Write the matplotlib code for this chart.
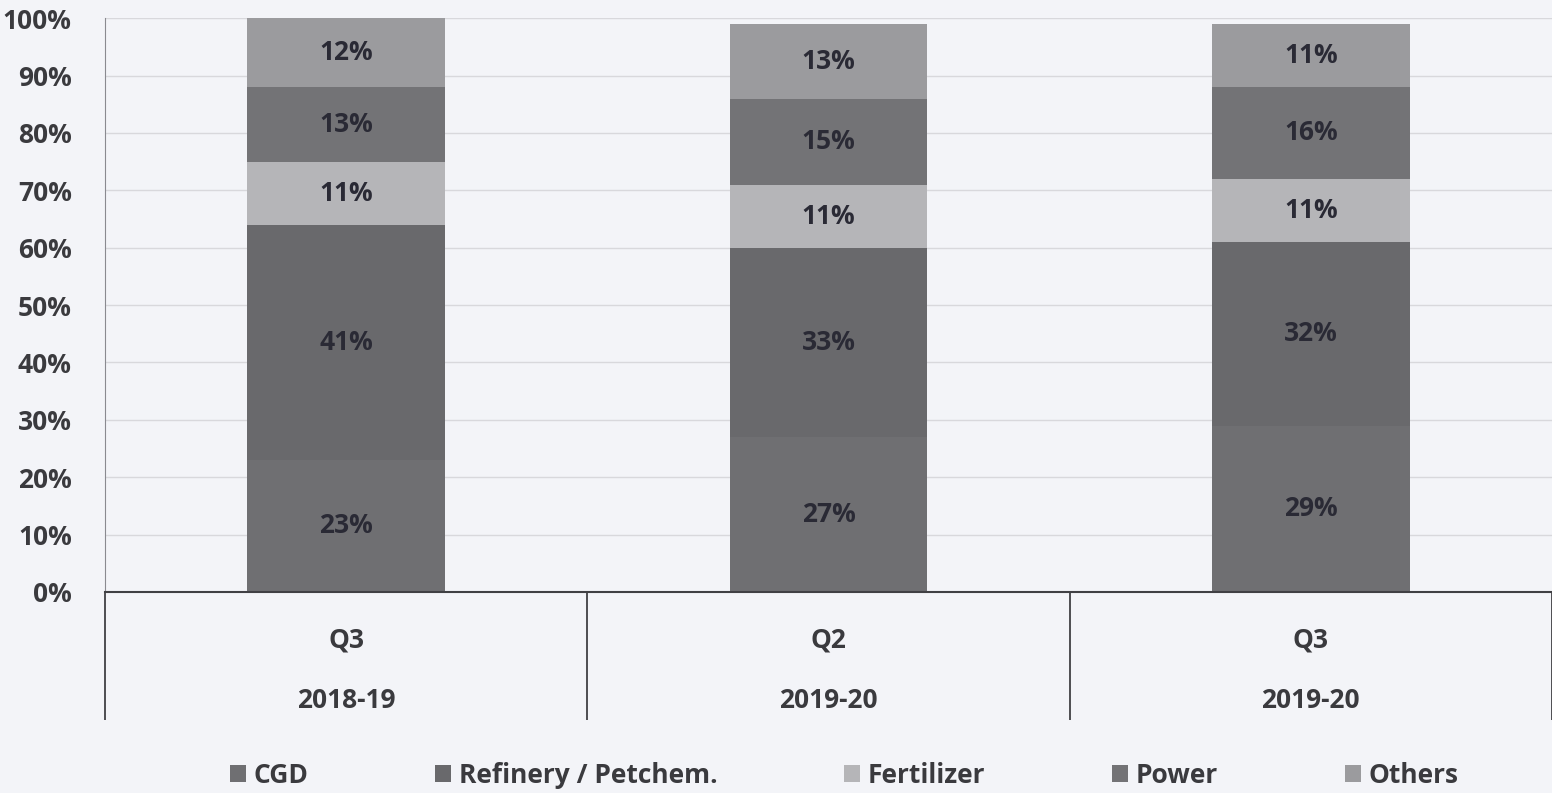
import matplotlib.pyplot as plt
import numpy as np

# Data (share of consumption, %)
quarters = ['Q3', 'Q2', 'Q3']
years = ['2018-19', '2019-20', '2019-20']
cgd = [23, 27, 29]
refinery = [41, 33, 32]
fertilizer = [11, 11, 11]
power = [13, 15, 16]
others = [12, 13, 11]

series = [('CGD', cgd, '#6f6f72'),
          ('Refinery / Petchem.', refinery, '#69696c'),
          ('Fertilizer', fertilizer, '#b5b5b8'),
          ('Power', power, '#737376'),
          ('Others', others, '#9b9b9e')]

plt.rcParams['font.family'] = ['Open Sans', 'DejaVu Sans']
plt.rcParams['font.weight'] = 'bold'
bg = '#f3f4f8'
txt = '#3a3a3e'

fig = plt.figure(figsize=(15.52, 7.93), dpi=100, facecolor=bg)
ax = fig.add_axes([0.0677, 0.2535, 0.9323, 0.7235], facecolor=bg)

x = np.arange(len(quarters))
bottom = np.zeros(len(quarters))
for name, vals, col in series:
    vals = np.array(vals, dtype=float)
    ax.bar(x, vals, 0.41, bottom=bottom, color=col, label=name, zorder=2)
    for xi, b, v in zip(x, bottom, vals):
        ax.text(xi, b + v / 2, f'{int(v)}%', ha='center', va='center',
                fontsize=19, fontweight='bold', color='#2a2a35', zorder=3)
    bottom += vals

ax.set_xlim(-0.5, 2.5)
ax.set_ylim(0, 100)
ax.set_yticks(range(0, 101, 10))
ax.set_yticklabels([f'{v}%' for v in range(0, 101, 10)])
ax.yaxis.grid(True, color='#d8d8dc', linewidth=1, zorder=0)
ax.tick_params(axis='y', length=0, pad=24, labelsize=19, labelcolor=txt)

# category labels with separators
ax.set_xticks(x)
ax.set_xticklabels([f'{q}\n{y}' for q, y in zip(quarters, years)],
                   linespacing=2.6)
ax.tick_params(axis='x', which='major', length=0, pad=25, labelsize=19,
               labelcolor=txt)
ax.set_xticks([-0.5, 0.5, 1.5, 2.5], minor=True)
ax.tick_params(axis='x', which='minor', length=92, width=1.3, color='#404044',
               direction='out')

for s in ['top', 'right']:
    ax.spines[s].set_visible(False)
ax.spines['left'].set_color('#8a8a90')
ax.spines['bottom'].set_color('#404044')
ax.spines['bottom'].set_linewidth(1.5)

handles, labels = ax.get_legend_handles_labels()
leg = fig.legend(handles, labels, loc='lower center', ncol=5,
                 bbox_to_anchor=(0.544, -0.025), frameon=False,
                 fontsize=19, handlelength=0.6, handleheight=0.6,
                 handletextpad=0.3, columnspacing=4.8)
for t in leg.get_texts():
    t.set_color(txt)

fig.savefig('out.png', dpi=100, facecolor=bg)
